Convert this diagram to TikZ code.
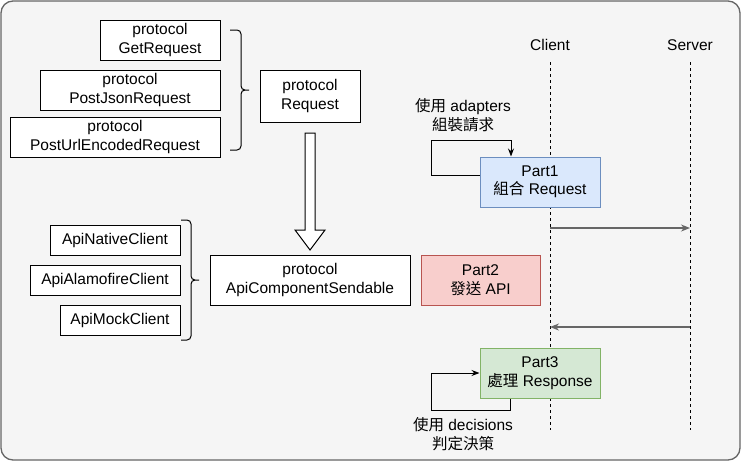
\documentclass[tikz,border=0pt]{standalone}
\usepackage{fontspec}
\setmainfont{Liberation Sans}
\newfontfamily\cjk{Noto Sans CJK TC}
\usepackage{tikz}
\usetikzlibrary{arrows.meta}

\definecolor{bgfill}{HTML}{F5F5F5}
\definecolor{bgline}{HTML}{666666}
\definecolor{bluefill}{HTML}{DAE8FC}
\definecolor{blueline}{HTML}{6C8EBF}
\definecolor{redfill}{HTML}{F8CECC}
\definecolor{redline}{HTML}{B85450}
\definecolor{greenfill}{HTML}{D5E8D4}
\definecolor{greenline}{HTML}{82B366}

\begin{document}
\begin{tikzpicture}[x=1pt, y=-1pt,
		font=\fontsize{15.5}{18.5}\selectfont,
		box/.style={draw, fill=white, line width=1pt, align=center, inner sep=0pt},
		part/.style={box, minimum width=120pt, minimum height=50pt},
		lifeline/.style={line width=1pt, dash pattern=on 3pt off 3pt},
		msg/.style={draw=bgline, line width=1.4pt, -{Stealth[length=9pt, width=7pt]}},
		selfloop/.style={line width=1pt, -{Stealth[length=8pt, width=6pt]}},
		bracket/.style={line width=1pt, rounded corners=4pt}]

	\useasboundingbox (0,0) rectangle (741,461);
	\draw[fill=bgfill, draw=bgline, line width=1.3pt, rounded corners=12pt] (1,1) rectangle (740,460);

	% protocols of the request
	\node[box, minimum width=120pt, minimum height=40pt] (get) at (160,40) {protocol\\GetRequest};
	\node[box, minimum width=180pt, minimum height=40pt] (postjson) at (130,90) {protocol\\PostJsonRequest};
	\node[box, minimum width=210pt, minimum height=40pt] (posturl) at (115,137) {protocol\\PostUrlEncodedRequest};
	\draw[bracket] (230,30) -| (241,90) -- (249,90) (230,150) -| (241,90) -- (249,90);
	\node[box, minimum width=100pt, minimum height=52pt] (req) at (310,96) {protocol\\Request};

	\draw[line width=1pt, fill=white] (305,133) -- (315,133) -- (315,230) -- (325,230)
		-- (310,250) -- (295,230) -- (305,230) -- cycle;

	% clients
	\node[box, minimum width=130pt, minimum height=30pt] (native) at (115,240) {ApiNativeClient};
	\node[box, minimum width=150pt, minimum height=30pt] (alamo) at (105,280) {ApiAlamofireClient};
	\node[box, minimum width=120pt, minimum height=30pt] (mock) at (120,320) {ApiMockClient};
	\draw[bracket] (181,220) -| (191,280) -- (199,280) (181,340) -| (191,280) -- (199,280);
	\node[box, minimum width=200pt, minimum height=50pt] (sendable) at (310,280) {protocol\\ApiComponentSendable};

	% client and server
	\node (client) at (550,45) {Client};
	\node (server) at (690,45) {Server};
	\coordinate (ctop) at (550,62);
	\coordinate (cbot) at (550,430);
	\coordinate (stop) at (690,62);
	\coordinate (sbot) at (690,430);
	\draw[lifeline] (ctop) -- (cbot);
	\draw[lifeline] (stop) -- (sbot);

	\node[part, fill=bluefill, draw=blueline] (p1) at (540,182) {Part1\\{\cjk 組合} Request};
	\node[part, fill=redfill, draw=redline, minimum width=119pt] (p2) at (480.5,280) {Part2\\{\cjk 發送} API};
	\node[part, fill=greenfill, draw=greenline] (p3) at (540,373) {Part3\\{\cjk 處理} Response};

	\coordinate (csend) at (550,228);
	\coordinate (ssend) at (690,228);
	\coordinate (cback) at (550,327);
	\coordinate (sback) at (690,327);
	\draw[msg] (csend) -- (ssend);
	\draw[msg] (sback) -- (cback);

	\draw[selfloop] ([yshift=7pt]p1.west) -| (431,140) -| ([xshift=-29pt]p1.north);
	\node[align=center] (adapt) at (463,115) {{\cjk 使用} adapters\\{\cjk 組裝請求}};

	\draw[selfloop] ([xshift=-30pt]p3.south) |- (431,410) |- (p3.west);
	\node[align=center] (decide) at (463,434) {{\cjk 使用} decisions\\{\cjk 判定決策}};
\end{tikzpicture}
\end{document}
